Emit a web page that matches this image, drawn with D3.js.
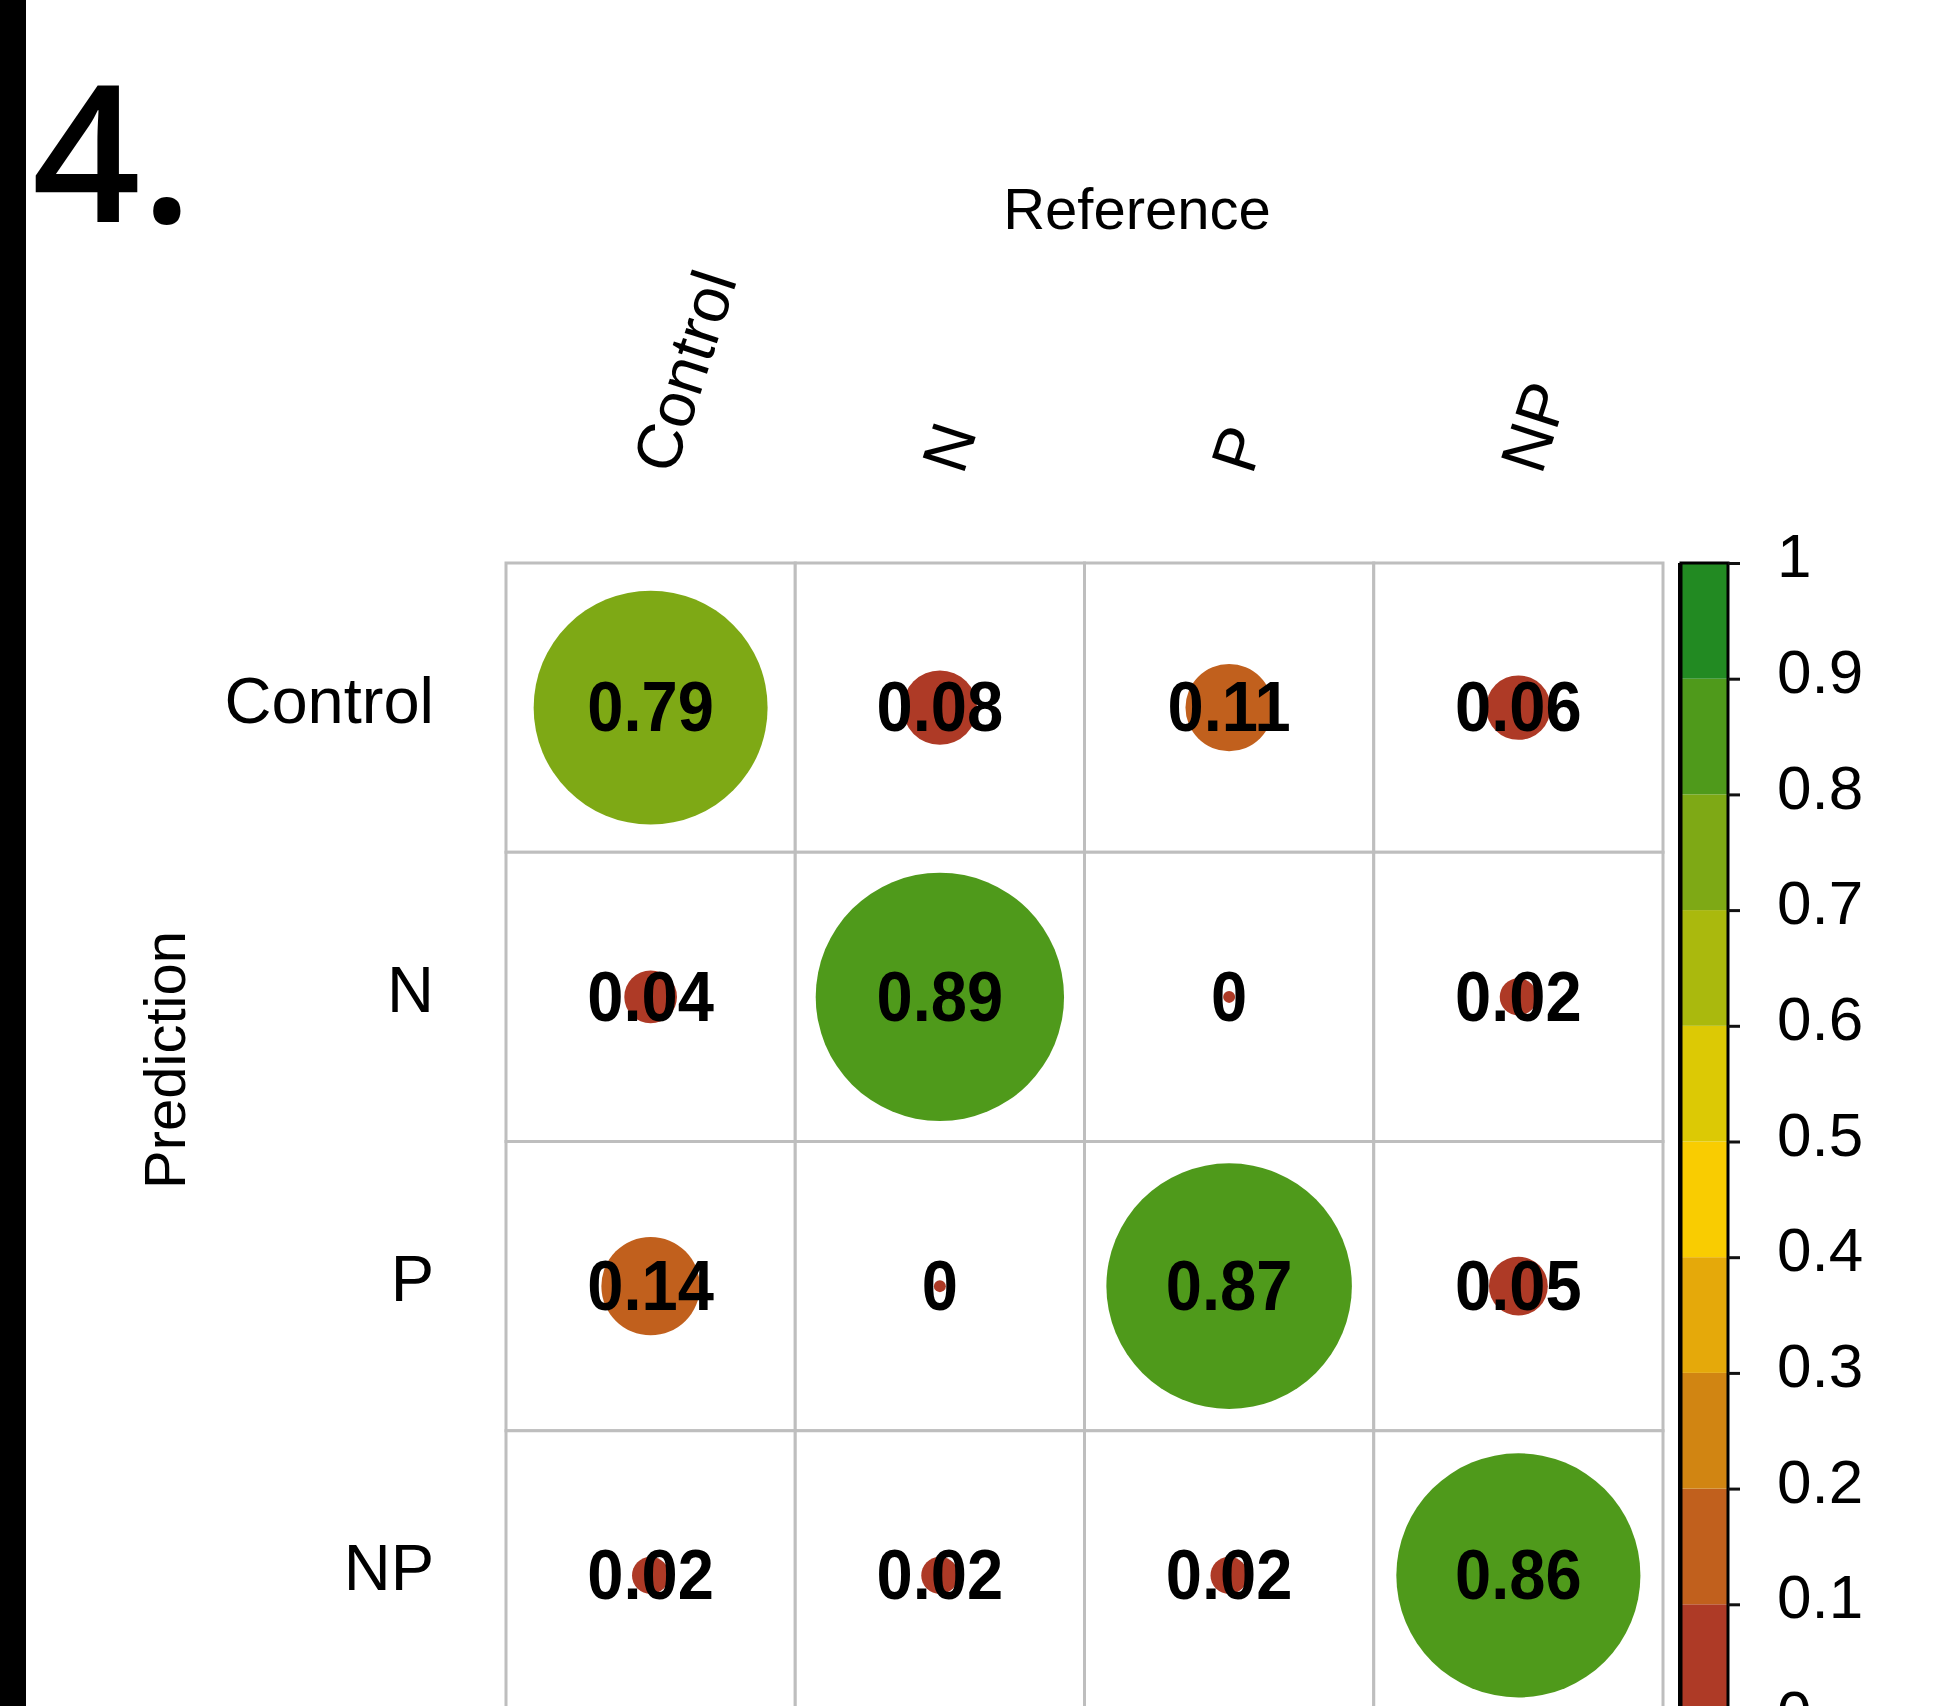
<!DOCTYPE html>
<html>
<head>
<meta charset="utf-8">
<script src="https://cdn.jsdelivr.net/npm/d3@7"></script>
<style>
  html, body { margin: 0; padding: 0; background: #fff; }
  svg { display: block; }
</style>
</head>
<body>
<script>
// Confusion matrix: rows are predicted classes, columns are reference classes
const referenceClasses = ["Control", "N", "P", "NP"];
const predictionClasses = ["Control", "N", "P", "NP"];

const predControl = [0.79, 0.08, 0.11, 0.06];
const predN       = [0.04, 0.89, 0,    0.02];
const predP       = [0.14, 0,    0.87, 0.05];
const predNP      = [0.02, 0.02, 0.02, 0.86];
const matrixRows  = [predControl, predN, predP, predNP];

// Colour key: ten bins from 0 to 1
const legendTicks = [0, 0.1, 0.2, 0.3, 0.4, 0.5, 0.6, 0.7, 0.8, 0.9, 1];
const legendTickLabels = ["0", "0.1", "0.2", "0.3", "0.4", "0.5", "0.6", "0.7", "0.8", "0.9", "1"];
const binColors = ["#AE3A26", "#C1601D", "#D18512", "#E5A90A", "#F9CC01",
                   "#DCC905", "#AAB90D", "#7EA915", "#4F9A1B", "#228A22"];

const W = 1944, H = 1706;
const svg = d3.select("body").append("svg")
  .attr("width", W).attr("height", H)
  .attr("viewBox", `0 0 ${W} ${H}`)
  .style("font-family", "'Liberation Sans', Arial, Helvetica, sans-serif");

svg.append("rect").attr("width", W).attr("height", H).attr("fill", "#fff");

// panel marker bar on the left edge
svg.append("rect").attr("x", 0).attr("y", 0).attr("width", 26).attr("height", H).attr("fill", "#000");

// panel number
svg.append("text")
  .attr("x", 32).attr("y", 222)
  .style("font-family", "'Open Sans', 'Noto Sans', sans-serif")
  .style("font-size", "190px")
  .style("font-weight", "600")
  .attr("fill", "#000")
  .text("4.");

// grid scales
const x = d3.scaleBand().domain(referenceClasses).range([506, 1663]);
const y = d3.scaleBand().domain(predictionClasses).range([563, 1720]);
const cell = x.bandwidth();

const color = d3.scaleQuantize().domain([0, 1]).range(binColors);
const radius = d3.scaleSqrt().domain([0, 1]).range([0, cell * 0.455]);

const cells = [];
matrixRows.forEach((row, i) => {
  row.forEach((v, j) => {
    cells.push({ pred: predictionClasses[i], ref: referenceClasses[j], value: v });
  });
});

// cell backgrounds and grid
const g = svg.append("g");
g.selectAll("rect.cell").data(cells).join("rect")
  .attr("class", "cell")
  .attr("x", d => x(d.ref))
  .attr("y", d => y(d.pred))
  .attr("width", cell).attr("height", cell)
  .attr("fill", "#fff")
  .attr("stroke", "#BEBEBE")
  .attr("stroke-width", 3);

// circles sized by proportion
g.selectAll("circle").data(cells).join("circle")
  .attr("cx", d => x(d.ref) + cell / 2)
  .attr("cy", d => y(d.pred) + cell / 2)
  .attr("r", d => Math.max(radius(d.value), 6))
  .attr("fill", d => color(Math.min(d.value, 0.9999)));

// value labels
g.selectAll("text.val").data(cells).join("text")
  .attr("class", "val")
  .attr("transform", d => `translate(${x(d.ref) + cell / 2},${y(d.pred) + cell / 2}) scale(0.93,1)`)
  .attr("text-anchor", "middle")
  .attr("dy", "0.34em")
  .style("font-size", "70px")
  .style("font-weight", "bold")
  .attr("fill", "#000")
  .text(d => d3.format("")(d.value));

// row labels (prediction classes)
svg.selectAll("text.rowlab").data(predictionClasses).join("text")
  .attr("class", "rowlab")
  .attr("x", 434)
  .attr("y", d => y(d) + cell / 2 + 15)
  .attr("text-anchor", "end")
  .style("font-size", "65px")
  .attr("fill", "#000")
  .text(d => d);

// column labels (reference classes), rotated
svg.selectAll("text.collab").data(referenceClasses).join("text")
  .attr("class", "collab")
  .attr("transform", d => `translate(${x(d) + cell / 2 + 23},476) rotate(-72)`)
  .attr("text-anchor", "start")
  .style("font-size", "64px")
  .attr("fill", "#000")
  .text(d => d);

// axis titles
svg.append("text")
  .attr("x", 1137).attr("y", 229)
  .attr("text-anchor", "middle")
  .style("font-size", "58px")
  .attr("fill", "#000")
  .text("Reference");

svg.append("text")
  .attr("transform", "translate(185,1060) rotate(-90)")
  .attr("text-anchor", "middle")
  .style("font-size", "58px")
  .attr("fill", "#000")
  .text("Prediction");

// colour key
const ky = d3.scaleLinear().domain([0, 1]).range([1720, 563]);
const keyX = 1681, keyW = 47;
const key = svg.append("g");
key.selectAll("rect.bin").data(binColors).join("rect")
  .attr("class", "bin")
  .attr("x", keyX)
  .attr("y", (c, i) => ky(legendTicks[i + 1]))
  .attr("width", keyW)
  .attr("height", (c, i) => ky(legendTicks[i]) - ky(legendTicks[i + 1]))
  .attr("fill", c => c);
key.append("rect")
  .attr("x", keyX).attr("y", ky(1))
  .attr("width", keyW).attr("height", ky(0) - ky(1))
  .attr("fill", "none").attr("stroke", "#000").attr("stroke-width", 3);
key.append("line")
  .attr("x1", keyX - 1).attr("x2", keyX - 1)
  .attr("y1", ky(1)).attr("y2", ky(0))
  .attr("stroke", "#000").attr("stroke-width", 4);

const keyAxis = d3.axisRight(ky)
  .tickValues(legendTicks)
  .tickFormat((d, i) => legendTickLabels[i])
  .tickSizeInner(12).tickSizeOuter(0).tickPadding(37);
const ax = svg.append("g")
  .attr("transform", `translate(${keyX + keyW},0)`)
  .call(keyAxis);
ax.select(".domain").remove();
ax.selectAll(".tick line").attr("stroke", "#111").attr("stroke-width", 3);
ax.selectAll(".tick text")
  .attr("dy", "0.22em")
  .attr("fill", "#000")
  .style("font-size", "62px")
  .style("font-family", "'Liberation Sans', Arial, Helvetica, sans-serif");
</script>
</body>
</html>
